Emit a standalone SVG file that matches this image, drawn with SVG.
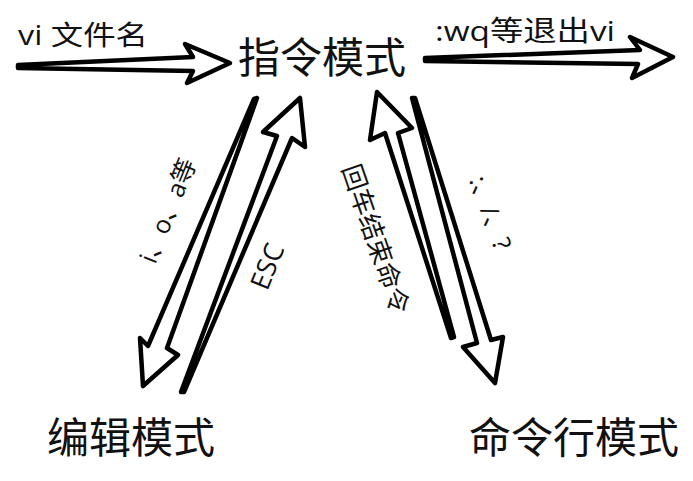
<svg xmlns="http://www.w3.org/2000/svg" width="693" height="481" viewBox="0 0 693 481">
<style>
text{font-family:"Open Sans","Noto Sans CJK SC",sans-serif;fill:#111}
.arr{fill:#fff;stroke:#000;stroke-width:4.5;stroke-linejoin:round;stroke-linecap:round}
</style>
<rect width="693" height="481" fill="#fff"/>
<g id="connectors">
<polygon class="arr" points="18,65 193,57 185,44 230,63 187,83 193,71 18,68"/>
<polygon class="arr" points="425,58 640,50 630,37 673,57 632,78 638,64 425,61"/>
<polygon class="arr" points="257,98 167,348 178,355 143,386 140,338 148,346 254,99"/>
<polygon class="arr" points="181,392 277,136 263,132 300,98 305,147 292,138 184,392"/>
<polygon class="arr" points="451,338 385,133 370,140 377,92 412,128 398,133 454,337"/>
<polygon class="arr" points="412,98 477,343 463,347 495,383 503,337 491,340 415,98"/>
<text x="18" y="45" font-size="27" textLength="130" lengthAdjust="spacingAndGlyphs">vi 文件名</text>
<text x="435" y="41" font-size="28" textLength="180" lengthAdjust="spacingAndGlyphs">:wq等退出vi</text>
<text transform="translate(176,214) rotate(-68)" text-anchor="middle" font-size="25">i、o、a等</text>
<text transform="translate(276,270) rotate(-68)" text-anchor="middle" font-size="27">ESC</text>
<text transform="translate(367,242) rotate(71)" text-anchor="middle" font-size="26">回车结束命令</text>
<text transform="translate(482,216) rotate(70)" text-anchor="middle" font-size="25">:、/、?</text>
</g>
<g id="node-cmd"><text x="322" y="73" font-size="42" text-anchor="middle">指令模式</text></g>
<g id="node-edit"><text x="131" y="453" font-size="42" text-anchor="middle">编辑模式</text></g>
<g id="node-line"><text x="574" y="453" font-size="42" text-anchor="middle">命令行模式</text></g>
</svg>
